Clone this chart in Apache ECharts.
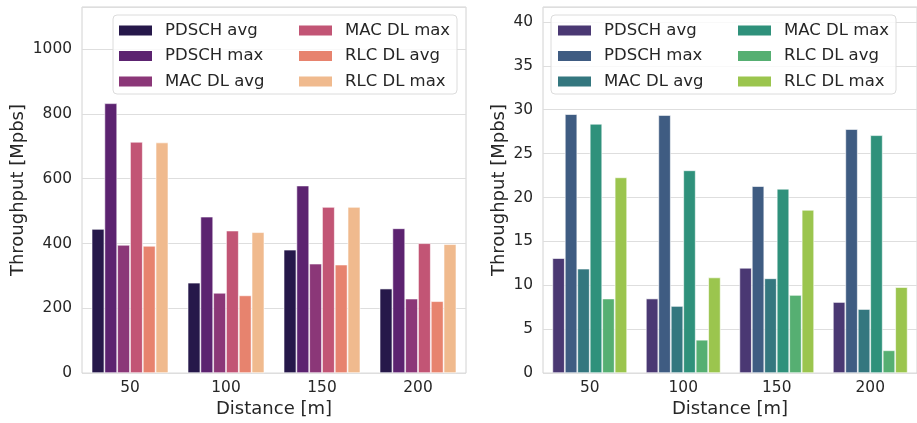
<!DOCTYPE html>
<html>
<head>
<meta charset="utf-8">
<script src="https://cdn.jsdelivr.net/npm/echarts@6/dist/echarts.min.js"></script>
<style>
html,body{margin:0;padding:0;background:#fff;}
#chart{width:917px;height:423px;}
</style>
</head>
<body>
<div id="chart"></div>
<script>
// ---- data ----
const categories = ['50', '100', '150', '200'];
const seriesNames = ['PDSCH avg', 'PDSCH max', 'MAC DL avg', 'MAC DL max', 'RLC DL avg', 'RLC DL max'];

// left chart (Mpbs)
const leftPdschAvg = [445, 279, 381, 261];
const leftPdschMax = [833, 483, 579, 447];
const leftMacAvg   = [396, 248, 338, 230];
const leftMacMax   = [714, 440, 513, 401];
const leftRlcAvg   = [393, 240, 335, 222];
const leftRlcMax   = [712, 435, 513, 398];

// right chart (Mpbs)
const rightPdschAvg = [13.1, 8.5, 12.0, 8.1];
const rightPdschMax = [29.5, 29.4, 21.3, 27.8];
const rightMacAvg   = [11.9, 7.65, 10.8, 7.3];
const rightMacMax   = [28.4, 23.1, 21.0, 27.1];
const rightRlcAvg   = [8.5, 3.8, 8.9, 2.6];
const rightRlcMax   = [22.3, 10.9, 18.6, 9.8];

const leftTicks = [0, 200, 400, 600, 800, 1000];
const rightTicks = [0, 5, 10, 15, 20, 25, 30, 35, 40];

const leftColors  = ['#26184A', '#5C2370', '#8B3778', '#C25575', '#E7836E', '#F0BA8E'];
const rightColors = ['#4A3873', '#3F5C82', '#34777F', '#2F917B', '#56AF72', '#9BC54E'];

const leftData  = [leftPdschAvg, leftPdschMax, leftMacAvg, leftMacMax, leftRlcAvg, leftRlcMax];
const rightData = [rightPdschAvg, rightPdschMax, rightMacAvg, rightMacMax, rightRlcAvg, rightRlcMax];

// ---- chart ----
const FONT = 'DejaVu Sans';
const TXT = '#262626';
const chart = echarts.init(document.getElementById('chart'), null, {renderer: 'canvas'});

function mkXAxis(gi) {
  return {
    type: 'category', gridIndex: gi, data: categories,
    name: 'Distance [m]', nameLocation: 'middle', nameGap: 26,
    nameTextStyle: {fontFamily: FONT, fontSize: 18, color: TXT},
    axisLine: {show: false}, axisTick: {show: false},
    axisLabel: {fontFamily: FONT, fontSize: 15.4, color: TXT, margin: 7},
    splitLine: {show: false}
  };
}
function mkYAxis(gi, max, interval, gap, ticks) {
  return {
    type: 'value', gridIndex: gi, min: 0, max: max, interval: interval,
    name: 'Throughput [Mpbs]', nameLocation: 'middle', nameGap: gap,
    nameTextStyle: {fontFamily: FONT, fontSize: 18, color: TXT},
    axisLine: {show: false}, axisTick: {show: false},
    axisLabel: {fontFamily: FONT, fontSize: 15.4, color: TXT, margin: 10, showMaxLabel: false,
      formatter: v => (ticks.indexOf(v) >= 0 ? String(v) : '')},
    splitLine: {show: true, lineStyle: {color: '#dedede', width: 1}}
  };
}

const series = [];
function addSeries(gi, dataArr, colors) {
  dataArr.forEach((d, i) => {
    series.push({
      type: 'bar', name: seriesNames[i], xAxisIndex: gi, yAxisIndex: gi,
      data: d, barGap: '0%', barCategoryGap: '20%',
      itemStyle: {color: colors[i], borderColor: 'rgba(255,255,255,0.75)', borderWidth: 0.8},
      emphasis: {disabled: true}
    });
  });
}
addSeries(0, leftData, leftColors);
addSeries(1, rightData, rightColors);

function mkLegend(left, names, colors) {
  return {
    orient: 'vertical', left: left, top: 22, padding: 0, z: 10,
    itemWidth: 33, itemHeight: 10, itemGap: 8.5,
    icon: 'rect',
    selectedMode: false,
    data: names.map((n, k) => ({name: n, itemStyle: {color: colors[k], borderWidth: 0}})),
    textStyle: {fontFamily: FONT, fontSize: 16.5, color: TXT, lineHeight: 16, padding: [0, 0, 0, 8]}
  };
}

chart.setOption({
  animation: false,
  backgroundColor: '#ffffff',
  grid: [
    {left: 82, top: 7, width: 384, height: 367, show: true, borderColor: '#d2d2d2', borderWidth: 1, containLabel: false},
    {left: 543, top: 7, width: 384, height: 367, show: true, borderColor: '#d2d2d2', borderWidth: 1, containLabel: false}
  ],
  xAxis: [mkXAxis(0), mkXAxis(1)],
  yAxis: [mkYAxis(0, 1130, 200, 55, leftTicks), mkYAxis(1, 41.7, 5, 35, rightTicks)],
  legend: [
    mkLegend(119, seriesNames.slice(0, 3), leftColors.slice(0, 3)),
    mkLegend(299, seriesNames.slice(3), leftColors.slice(3)),
    mkLegend(558, seriesNames.slice(0, 3), rightColors.slice(0, 3)),
    mkLegend(738, seriesNames.slice(3), rightColors.slice(3))
  ],
  graphic: [
    {type: 'rect', shape: {x: 113, y: 15, width: 344, height: 79, r: 4}, z: 3,
     style: {fill: 'rgba(255,255,255,0.8)', stroke: '#dcdcdc', lineWidth: 1}},
    {type: 'rect', shape: {x: 551, y: 15, width: 345, height: 79, r: 4}, z: 3,
     style: {fill: 'rgba(255,255,255,0.8)', stroke: '#dcdcdc', lineWidth: 1}}
  ],
  series: series
});
</script>
</body>
</html>
